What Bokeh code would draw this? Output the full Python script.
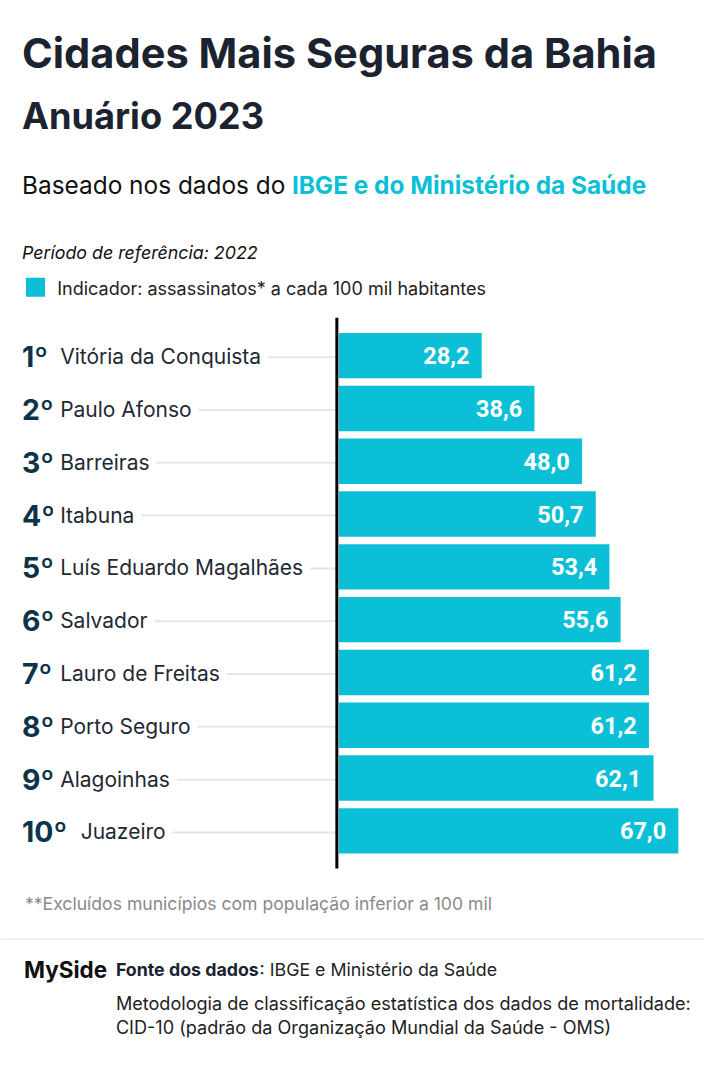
from bokeh.plotting import figure
from bokeh.models import Range1d
from bokeh.core.properties import value
from bokeh.embed import file_html
from bokeh.resources import INLINE

# ---------------- data ----------------
ranks = ["1º", "2º", "3º", "4º", "5º", "6º", "7º", "8º", "9º", "10º"]
cities = ["Vitória da Conquista", "Paulo Afonso", "Barreiras", "Itabuna",
          "Luís Eduardo Magalhães", "Salvador", "Lauro de Freitas",
          "Porto Seguro", "Alagoinhas", "Juazeiro"]
values = [28.2, 38.6, 48.0, 50.7, 53.4, 55.6, 61.2, 61.2, 62.1, 67.0]
value_labels = [f"{v:.1f}".replace(".", ",") for v in values]

title = "Cidades Mais Seguras da Bahia"
subtitle = "Anuário 2023"
based_a = "Baseado nos dados do"
based_b = "IBGE e do Ministério da Saúde"
period = "Período de referência: 2022"
legend_label = "Indicador: assassinatos* a cada 100 mil habitantes"
footnote = "**Excluídos municípios com população inferior a 100 mil"
brand = "MySide"
source_a = "Fonte dos dados"
source_b = ": IBGE e Ministério da Saúde"
method_1 = "Metodologia de classificação estatística dos dados de mortalidade:"
method_2 = "CID-10 (padrão da Organização Mundial da Saúde - OMS)"

# ---------------- style / layout ----------------
CYAN = "#0bbfd7"
DARK = "#1b2330"
RANK = "#0d3349"
NAME = "#1f2933"
FONT = value("Inter")

W, H = 704, 1058          # canvas fits the 720x1074 window with 8px margins
REF_W, REF_H = 720, 1074  # design grid
S = W / REF_W             # screen scale for font sizes / offsets

PX_PER_UNIT = 5.183       # design px per indicator unit
ZERO_REF = 346            # design x of value 0
ROW0_REF = 360.5          # design y of first row centre
ROW_PITCH = 53.6          # design px between rows


def X(rx):
    return (rx - ZERO_REF) / PX_PER_UNIT


def Y(ry):
    return (ry - ROW0_REF) / ROW_PITCH


def fs(px):
    return f"{px * S:.1f}px"


p = figure(width=W, height=H,
           x_range=Range1d(X(0), X(REF_W)), y_range=Range1d(Y(REF_H), Y(0)),
           x_axis_location=None, y_axis_location=None,
           output_backend="svg", toolbar_location=None, min_border=0)
p.grid.visible = False
p.outline_line_color = None
p.background_fill_color = "white"
p.border_fill_color = "white"

rows = list(range(len(values)))
name_ref_x = [61 + 21 * (len(r) - 2) for r in ranks]
PAD = 7

# gridlines (covered by label backgrounds)
p.segment(x0=[X(x) for x in name_ref_x], x1=[X(344)] * len(rows),
          y0=[r + 0.03 for r in rows], y1=[r + 0.03 for r in rows],
          line_color="#e6e6e6", line_width=2)

# bars
p.hbar(y=rows, left=0, right=values, height=0.86, fill_color=CYAN, line_color=None)

# axis line
p.segment(x0=[X(344)], x1=[X(344)], y0=[Y(322)], y1=[Y(881)], line_color="black", line_width=3)

# rank + names
p.text(x=[X(22)] * len(rows), y=[r + 0.02 for r in rows], text=ranks, text_font=FONT,
       text_font_style="bold", text_font_size=fs(29), text_color=RANK,
       text_baseline="middle", text_align="left")
p.text(x=[X(x) for x in name_ref_x], y=[r + 0.02 for r in rows], text=cities, text_font=FONT,
       text_font_size=fs(21.5), text_color=NAME, text_baseline="middle", text_align="left",
       background_fill_color="white", padding=PAD, x_offset=-PAD)

# value labels
p.text(x=values, y=rows, text=value_labels, x_offset=-12.5 * S, text_font=value("Roboto"),
       text_font_style="bold", text_font_size=fs(24), text_color="white",
       text_baseline="middle", text_align="right")

# header texts
p.text(x=[X(22)], y=[Y(53)], text=[title], text_font=FONT, text_font_style="bold",
       text_font_size=fs(42.5), text_color=DARK, text_baseline="middle")
p.text(x=[X(22)], y=[Y(117)], text=[subtitle], text_font=FONT, text_font_style="bold",
       text_font_size=fs(37), text_color=DARK, text_baseline="middle")
p.text(x=[X(22)], y=[Y(187)], text=[based_a], text_font=FONT,
       text_font_size=fs(25), text_color="#111111", text_baseline="middle")
p.text(x=[X(298)], y=[Y(187)], text=[based_b], text_font=FONT, text_font_style="bold",
       text_font_size=fs(25), text_color=CYAN, text_baseline="middle")
p.text(x=[X(22)], y=[Y(256)], text=[period], text_font=FONT, text_font_style="italic",
       text_font_size=fs(18.2), text_color="#111111", text_baseline="middle")

# legend
p.rect(x=[X(35.8)], y=[Y(291)], width=19.5 * S, height=19.5 * S, width_units="screen",
       height_units="screen", fill_color=CYAN, line_color=None)
p.text(x=[X(58)], y=[Y(292)], text=[legend_label], text_font=FONT,
       text_font_size=fs(18.4), text_color="#222222", text_baseline="middle")

# footnote
p.text(x=[X(25)], y=[Y(917)], text=[footnote], text_font=FONT,
       text_font_size=fs(18), text_color="#8a8a8a", text_baseline="middle")

# separator
p.segment(x0=[X(0)], x1=[X(REF_W)], y0=[Y(953)], y1=[Y(953)], line_color="#ececec", line_width=1.5)

# footer
p.text(x=[X(24)], y=[Y(984)], text=[brand], text_font=FONT, text_font_style="bold",
       text_font_size=fs(23), text_color="#111111", text_baseline="middle")
p.text(x=[X(118)], y=[Y(984)], text=[source_a], text_font=FONT, text_font_style="bold",
       text_font_size=fs(18.2), text_color=DARK, text_baseline="middle")
p.text(x=[X(265)], y=[Y(984)], text=[source_b], text_font=FONT,
       text_font_size=fs(18.2), text_color="#222222", text_baseline="middle")
p.text(x=[X(118)], y=[Y(1018)], text=[method_1], text_font=FONT,
       text_font_size=fs(18.5), text_color="#222222", text_baseline="middle")
p.text(x=[X(118)], y=[Y(1042)], text=[method_2], text_font=FONT,
       text_font_size=fs(18.5), text_color="#222222", text_baseline="middle")

open("out.html", "w").write(file_html(p, INLINE))
